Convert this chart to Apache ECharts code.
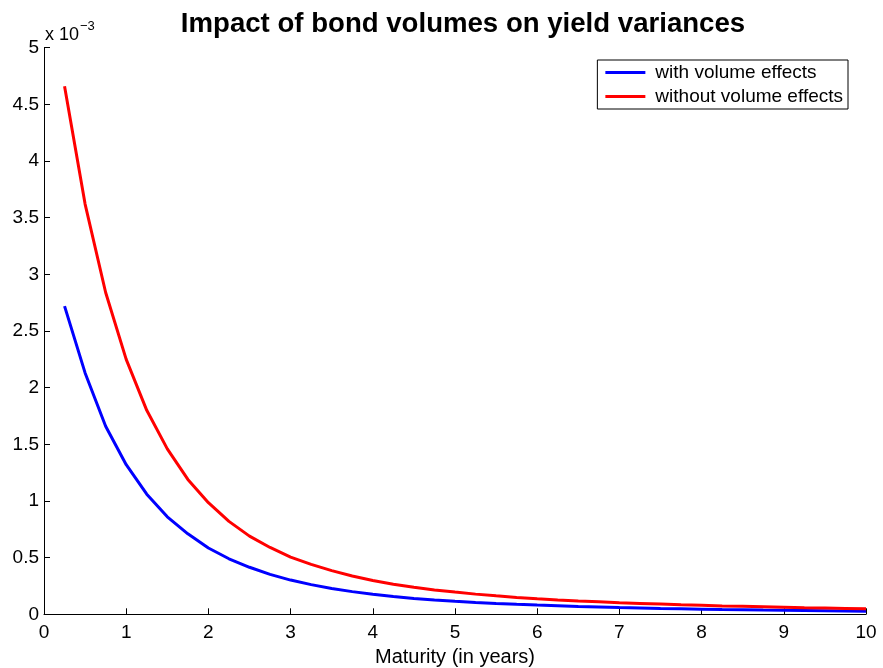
<!DOCTYPE html>
<html>
<head>
<meta charset="utf-8">
<script src="https://cdn.jsdelivr.net/npm/echarts@6/dist/echarts.min.js"></script>
<style>
  html, body { margin: 0; padding: 0; background: #fff; }
  #chart { width: 883px; height: 668px; }
</style>
</head>
<body>
<div id="chart"></div>
<script>
// Maturities (years)
var maturities = [0.25,0.5,0.75,1,1.25,1.5,1.75,2,2.25,2.5,2.75,3,3.25,3.5,3.75,4,4.25,4.5,4.75,5,
                  5.25,5.5,5.75,6,6.25,6.5,6.75,7,7.25,7.5,7.75,8,8.25,8.5,8.75,9,9.25,9.5,9.75,10];
// Yield variances, in units of 1e-3
var withVolume = [2.72,2.13,1.66,1.32,1.06,0.86,0.71,0.585,0.49,0.415,0.352,0.302,0.262,0.228,0.200,0.176,0.157,0.140,0.126,0.115,
                  0.105,0.096,0.088,0.081,0.075,0.069,0.064,0.059,0.055,0.051,0.048,0.045,0.042,0.040,0.037,0.035,0.033,0.031,0.029,0.027];
var withoutVolume = [4.66,3.62,2.84,2.25,1.80,1.46,1.19,0.985,0.82,0.69,0.59,0.505,0.44,0.385,0.338,0.298,0.266,0.238,0.215,0.196,
                     0.178,0.163,0.149,0.137,0.127,0.118,0.110,0.102,0.096,0.090,0.084,0.079,0.074,0.070,0.066,0.062,0.058,0.055,0.052,0.049];
var seriesNames = ['with volume effects', 'without volume effects'];
var titleText = 'Impact of bond volumes on yield variances';
var xAxisName = 'Maturity (in years)';

var FONT = "'Liberation Sans', Arial, Helvetica, sans-serif";

function pairs(xs, ys) { return xs.map(function (x, i) { return [x, ys[i]]; }); }

var chart = echarts.init(document.getElementById('chart'), null, { renderer: 'canvas' });
chart.setOption({
  backgroundColor: '#ffffff',
  animation: false,
  title: {
    text: titleText,
    left: 458, top: 5, textAlign: 'center',
    textStyle: { fontFamily: FONT, fontWeight: 'bold', fontSize: 27.6, color: '#000' }
  },
  grid: { left: 44, right: 17, top: 47.7, bottom: 53.7, containLabel: false, outerBoundsMode: 'none' },
  legend: {
    orient: 'vertical',
    right: 35, top: 60,
    backgroundColor: '#fff',
    borderColor: '#000', borderWidth: 1,
    padding: [3, 5, 3, 8],
    itemGap: 5,
    itemWidth: 40, itemHeight: 3,
    icon: 'rect',
    textStyle: { fontFamily: FONT, fontSize: 19, color: '#000', padding: [0, 0, 0, 5] },
    data: seriesNames
  },
  xAxis: {
    type: 'value', min: 0, max: 10, interval: 1,
    name: xAxisName, nameLocation: 'middle', nameGap: 30,
    nameTextStyle: { fontFamily: FONT, fontSize: 20, color: '#000' },
    axisLine: { show: true, lineStyle: { color: '#000', width: 1 } },
    axisTick: { show: true, inside: true, length: 6, lineStyle: { color: '#000' } },
    axisLabel: { fontFamily: FONT, fontSize: 19, color: '#000', margin: 9 },
    splitLine: { show: false }
  },
  yAxis: {
    type: 'value', min: 0, max: 5, interval: 0.5,
    axisLine: { show: true, lineStyle: { color: '#000', width: 1 } },
    axisTick: { show: true, inside: true, length: 6, lineStyle: { color: '#000' } },
    axisLabel: { fontFamily: FONT, fontSize: 19, color: '#000', margin: 5 },
    splitLine: { show: false }
  },
  graphic: [{
    type: 'text', left: 45, top: 20,
    style: {
      text: '{a|x 10}{b|−3}',
      rich: {
        a: { fontFamily: FONT, fontSize: 18, fill: '#000', verticalAlign: 'bottom', lineHeight: 24 },
        b: { fontFamily: FONT, fontSize: 13, fill: '#000', verticalAlign: 'top', lineHeight: 24, padding: [0, 0, 12, 1] }
      }
    }
  }],
  series: [
    {
      name: seriesNames[0], type: 'line', data: pairs(maturities, withVolume),
      showSymbol: false, symbol: 'none',
      lineStyle: { color: '#0000ff', width: 3 }, itemStyle: { color: '#0000ff' }
    },
    {
      name: seriesNames[1], type: 'line', data: pairs(maturities, withoutVolume),
      showSymbol: false, symbol: 'none',
      lineStyle: { color: '#ff0000', width: 3 }, itemStyle: { color: '#ff0000' }
    }
  ]
});
</script>
</body>
</html>
